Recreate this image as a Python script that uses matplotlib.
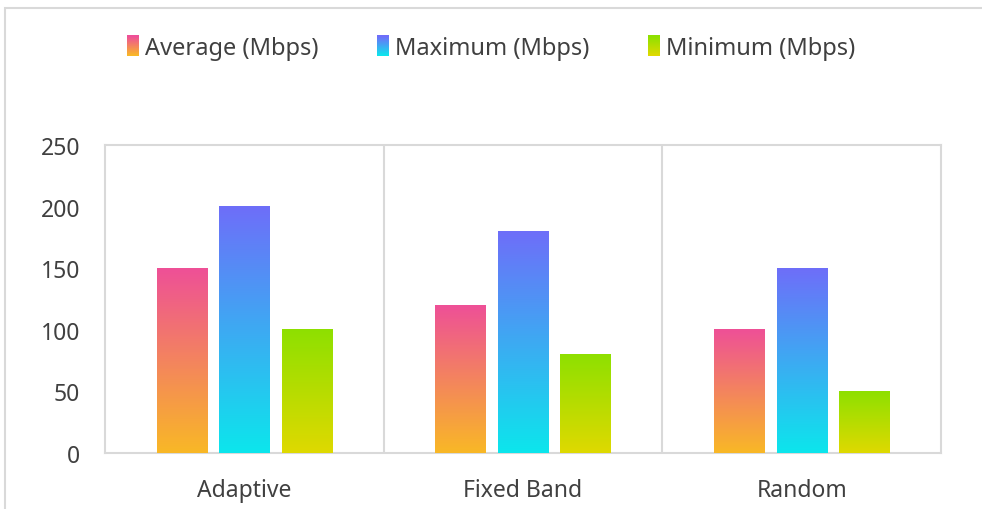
import numpy as np
import matplotlib
matplotlib.use("Agg")
import matplotlib.pyplot as plt
from matplotlib.colors import LinearSegmentedColormap
from matplotlib.patches import Rectangle
from matplotlib.legend_handler import HandlerBase

plt.rcParams['font.family'] = ['Noto Sans', 'DejaVu Sans']

categories = ['Adaptive', 'Fixed Band', 'Random']
series = ['Average (Mbps)', 'Maximum (Mbps)', 'Minimum (Mbps)']
average = [150, 120, 100]
maximum = [200, 180, 150]
minimum = [100, 80, 50]
yticks = [0, 50, 100, 150, 200, 250]

# top colour, bottom colour for each series
grads = [('#ee5097', '#f9b826'), ('#6e6ef9', '#0ce6ec'), ('#8ee000', '#dfd900')]
cmaps = [LinearSegmentedColormap.from_list('g%d' % i, [b, t]) for i, (t, b) in enumerate(grads)]

txt = '#404040'
grid = '#d9d9d9'

fig = plt.figure(figsize=(9.82, 5.1), dpi=100)
ax = fig.add_axes([105 / 982, 1 - 454 / 510, 836 / 982, 308 / 510])

bw = 0.18
gap = 0.044
x = np.arange(len(categories))
ramp = np.linspace(0, 1, 256).reshape(-1, 1)
for i, vals in enumerate([average, maximum, minimum]):
    off = (i - 1) * (bw + gap)
    for xi, v in zip(x, vals):
        x0 = xi + off - bw / 2
        ax.imshow(ramp, cmap=cmaps[i], origin='lower', aspect='auto',
                  extent=[x0, x0 + bw, 0, v], zorder=3, interpolation='bilinear')

ax.set_xlim(-0.5, len(categories) - 0.5)
ax.set_ylim(0, 250)
ax.set_yticks(yticks)
ax.set_xticks(x)
ax.set_xticklabels(categories)
ax.tick_params(length=0, labelsize=16.5, colors=txt)
ax.tick_params(axis='y', pad=18)
ax.tick_params(axis='x', pad=18)
for s in ax.spines.values():
    s.set_color(grid)
    s.set_linewidth(1.5)
for b in [0.5, 1.5]:
    ax.axvline(b, color=grid, lw=1.5, zorder=1)


class GradHandler(HandlerBase):
    def __init__(self, cmap):
        super().__init__()
        self.cmap = cmap

    def create_artists(self, legend, orig_handle, xdescent, ydescent,
                       width, height, fontsize, trans):
        n = 20
        arts = []
        for k in range(n):
            r = Rectangle((-xdescent, -ydescent + height * k / n), width, height / n + 0.3,
                          facecolor=self.cmap(k / (n - 1)), edgecolor='none', transform=trans)
            arts.append(r)
        return arts


handles = [Rectangle((0, 0), 1, 1) for _ in series]
leg = fig.legend(handles, series, loc='center', bbox_to_anchor=(0.5, 1 - 49 / 510),
                 ncol=3, frameon=False, fontsize=17, handlelength=0.5, handleheight=0.95,
                 handletextpad=0.25, columnspacing=2.5,
                 handler_map={h: GradHandler(c) for h, c in zip(handles, cmaps)})
for t in leg.get_texts():
    t.set_color(txt)

# light frame round the chart
fig.patches.append(Rectangle((5 / 982, -0.05), 1.0, 1.05 - 9 / 510, transform=fig.transFigure,
                             fill=False, edgecolor=grid, lw=1.5))

fig.savefig('out.png', dpi=100)
